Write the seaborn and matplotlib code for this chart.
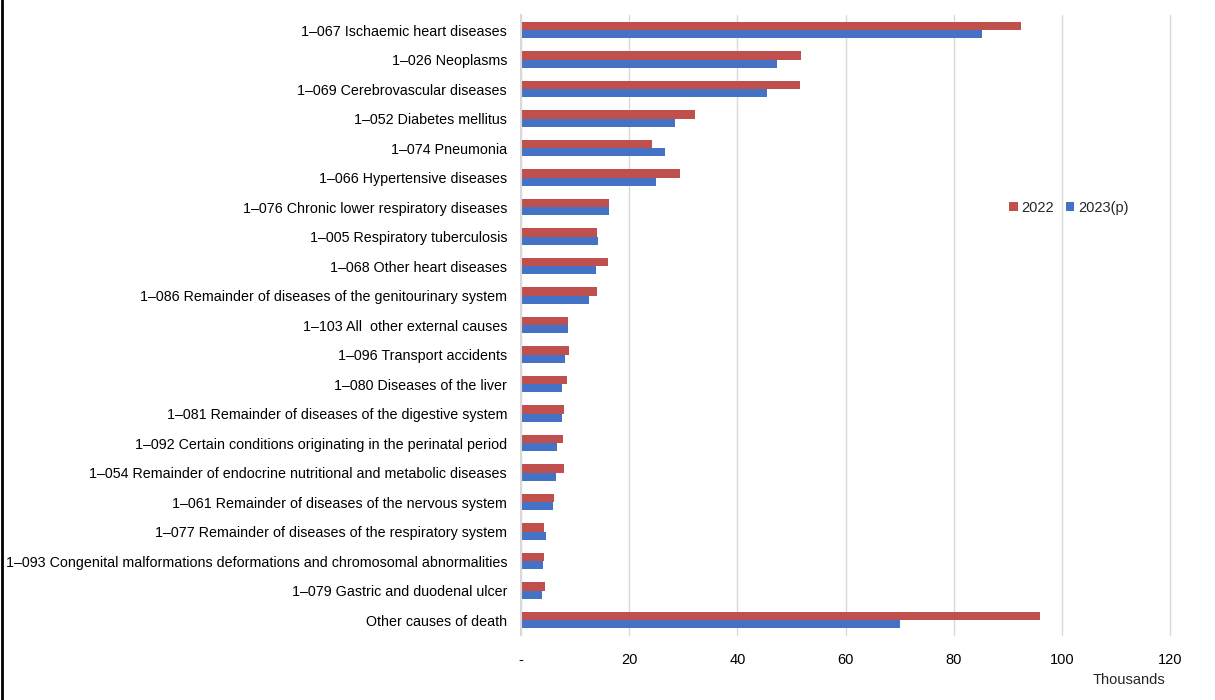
import matplotlib
matplotlib.use("Agg")
import matplotlib.pyplot as plt
from matplotlib.lines import Line2D
import seaborn as sns
import pandas as pd

# Causes of death, values in thousands
causes = [
    "1–067 Ischaemic heart diseases",
    "1–026 Neoplasms",
    "1–069 Cerebrovascular diseases",
    "1–052 Diabetes mellitus",
    "1–074 Pneumonia",
    "1–066 Hypertensive diseases",
    "1–076 Chronic lower respiratory diseases",
    "1–005 Respiratory tuberculosis",
    "1–068 Other heart diseases",
    "1–086 Remainder of diseases of the genitourinary system",
    "1–103 All  other external causes",
    "1–096 Transport accidents",
    "1–080 Diseases of the liver",
    "1–081 Remainder of diseases of the digestive system",
    "1–092 Certain conditions originating in the perinatal period",
    "1–054 Remainder of endocrine nutritional and metabolic diseases",
    "1–061 Remainder of diseases of the nervous system",
    "1–077 Remainder of diseases of the respiratory system",
    "1–093 Congenital malformations deformations and chromosomal abnormalities",
    "1–079 Gastric and duodenal ulcer",
    "Other causes of death",
]
deaths_2022 = [92.5, 51.8, 51.6, 32.2, 24.3, 29.4, 16.3, 14.0, 16.1, 14.1, 8.6,
               8.8, 8.5, 7.9, 7.8, 8.0, 6.1, 4.3, 4.3, 4.5, 95.9]
deaths_2023 = [85.2, 47.4, 45.5, 28.5, 26.6, 25.0, 16.2, 14.3, 13.9, 12.5, 8.6,
               8.1, 7.5, 7.5, 6.7, 6.5, 5.9, 4.7, 4.0, 3.8, 70.0]
years = ["2022", "2023(p)"]
colors = ["#C0504D", "#4472C4"]

df = pd.DataFrame({
    "cause": causes * 2,
    "deaths": deaths_2022 + deaths_2023,
    "year": [years[0]] * len(causes) + [years[1]] * len(causes),
})

sns.set_style("white")
plt.rcParams["font.family"] = ["Liberation Sans", "DejaVu Sans"]

fig = plt.figure(figsize=(12.15, 7), dpi=100)
ax = fig.add_axes([0.4288, 0.0932, 0.5342, 0.8850])

sns.barplot(data=df, y="cause", x="deaths", hue="year", hue_order=years,
            palette=colors, orient="h", width=0.56, saturation=1,
            linewidth=0, ax=ax, legend=True)

ax.set_xlim(0, 120)
ax.set_xticks(range(0, 121, 20))
ax.set_xticklabels(["-"] + [str(v) for v in range(20, 121, 20)])
ax.xaxis.grid(True, color="#d9d9d9", linewidth=1)
for gl in ax.get_xgridlines():
    gl.set_clip_on(False)
ax.set_axisbelow(True)
ax.set_xlabel("")
ax.set_ylabel("")
for side in ["top", "right", "bottom"]:
    ax.spines[side].set_visible(False)
ax.spines["left"].set_color("#d9d9d9")
ax.spines["left"].set_linewidth(1.5)
ax.tick_params(axis="both", length=0, labelsize=10.5, colors="#000000")
ax.tick_params(axis="y", labelsize=10.25, pad=10)
ax.tick_params(axis="x", pad=13)

ax.legend(loc="center left", bbox_to_anchor=(1003 / 1215, 1 - 208 / 700),
          bbox_transform=fig.transFigure, ncol=2, frameon=False,
          fontsize=10.5, handlelength=0.6, handleheight=0.6,
          handletextpad=0.25, columnspacing=0.8, borderaxespad=0)

fig.text(1165 / 1215, 1 - 680 / 700, "Thousands", ha="right", va="center",
         fontsize=10.5)

# left border of the original image
fig.add_artist(Line2D([0.002, 0.002], [0, 1], transform=fig.transFigure,
                      color="black", linewidth=2))

fig.savefig("out.png", dpi=100)
